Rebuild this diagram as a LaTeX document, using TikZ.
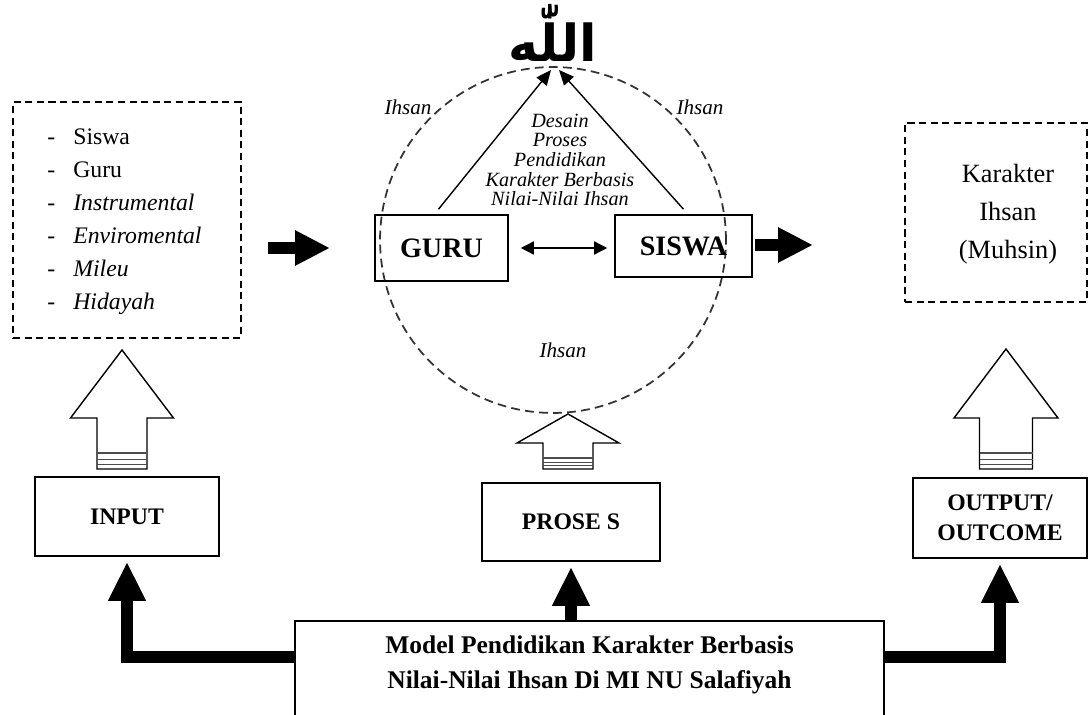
\documentclass[tikz,border=0pt]{standalone}
\usepackage{fontspec}
\setmainfont{Liberation Serif}
\newfontfamily\arabicfont[Script=Arabic]{DejaVu Sans}
\TeXXeTstate=1
\usetikzlibrary{calc,arrows.meta,positioning}
\tikzset{
  sbox/.style={draw, line width=0.9pt, font=\fontsize{13.5}{17}\selectfont\bfseries, align=center},
  pelaku/.style={draw, line width=0.9pt, font=\fontsize{16}{19}\selectfont\bfseries},
  dbox/.style={draw, line width=0.7pt, dash pattern=on 4pt off 2.6pt},
  ihsan/.style={font=\fontsize{12}{14}\selectfont\itshape},
  fatarrow/.style={line width=0.24cm, -{Triangle[length=0.78cm, width=0.7cm]}},
  blkarrow/.style={line width=0.24cm, -{Triangle[length=0.7cm, width=0.66cm]}},
  tipis/.style={line width=0.8pt, -{Triangle[length=0.3cm, width=0.26cm]}},
  hollow/.style={draw, line width=0.8pt, fill=white},
}
\begin{document}
\begin{tikzpicture}[x=0.02cm, y=-0.02cm]
  \clip (0,0) rectangle (1089,715);

  %% --- Allah and the circle of Ihsan ---
  \node[font={\fontsize{29}{33}\arabicfont\bfseries}] (allah) at (553,33) {\beginR اللّٰه\endR};
  \coordinate (puncak) at (555,70);
  \node[circle, draw, line width=1pt, black!80, dash pattern=on 5pt off 3pt,
        minimum size=6.92cm] (lingkar) at (553,240) {};

  \node[ihsan] (ihsanL) at (408,107) {Ihsan};
  \node[ihsan] (ihsanR) at (700,107) {Ihsan};
  \node[ihsan] (ihsanB) at (563,350) {Ihsan};

  \node[align=center, font=\fontsize{11.5}{11.2}\selectfont\itshape] (desain) at (560,160)
    {Desain\\Proses\\Pendidikan\\Karakter Berbasis\\Nilai-Nilai Ihsan};

  % guru and siswa
  \node[pelaku, minimum width=2.66cm, minimum height=1.32cm] (guru) at (441.5,248) {GURU};
  \node[pelaku, minimum width=2.74cm, minimum height=1.24cm] (siswa) at (683.5,246) {SISWA};
  \draw[{Triangle[length=0.26cm,width=0.26cm]}-{Triangle[length=0.26cm,width=0.26cm]},
        line width=0.8pt, shorten <=0.24cm, shorten >=0.14cm] (guru.east) -- (guru.east -| siswa.west);
  \draw[tipis] ($(guru.north)+(-3,-5)$) -- ($(puncak)+(-4,0)$);
  \draw[tipis] ($(siswa.north)+(0,-5)$) -- ($(puncak)+(4,0)$);

  %% --- input (left) ---
  \node[dbox, minimum width=4.56cm, minimum height=4.72cm, font=\fontsize{13.5}{18.8}\selectfont] (masukan) at (127,220)
    {\begin{tabular}{@{}l@{\hspace{0.36cm}}l@{}}
      - & Siswa\\
      - & Guru\\
      - & \textit{Instrumental}\\
      - & \textit{Enviromental}\\
      - & \textit{Mileu}\\
      - & \textit{Hidayah}
    \end{tabular}\hspace*{0.1cm}};

  %% --- output (right) ---
  \node[dbox, minimum width=3.64cm, minimum height=3.58cm, font=\fontsize{15}{21.6}\selectfont] (hasil) at (996,212.5)
    {\hspace*{0.48cm}\begin{tabular}{@{}c@{}}Karakter\\Ihsan\\(Muhsin)\end{tabular}};

  % black arrows between the parts
  \coordinate (a1) at (268,248);
  \coordinate (a2) at (330,248);
  \coordinate (b1) at (755,245);
  \coordinate (b2) at (813,245);
  \draw[blkarrow] (a1) -- (a2);
  \draw[blkarrow] (b1) -- (b2);

  %% --- stages ---
  \node[sbox, minimum width=3.68cm, minimum height=1.58cm] (input) at (127,516.5) {INPUT};
  \node[sbox, minimum width=3.56cm, minimum height=1.56cm] (proses) at (571,522) {PROSE S};
  \node[sbox, minimum width=3.48cm, minimum height=1.6cm] (output) at (1000,518) {OUTPUT/\\OUTCOME};

  % hollow arrows
  \foreach \cx/\ty/\by/\hh/\sh/\st in {122/350/418/51.5/25/16, 568/414/443/51/25/11, 1006/349/418/52/26.5/16}{
    \draw[hollow] (\cx,\ty) -- (\cx+\hh,\by) -- (\cx+\sh,\by) -- (\cx+\sh,469)
      -- (\cx-\sh,469) -- (\cx-\sh,\by) -- (\cx-\hh,\by) -- cycle;
    \foreach \d in {0.3,0.6,1}
      \draw[black!70, line width=0.6pt] (\cx-\sh,469-\d*\st) -- (\cx+\sh,469-\d*\st);
  }

  %% --- model (bottom) ---
  \node[draw, line width=0.9pt, anchor=north, minimum width=11.78cm, minimum height=2.4cm] (model) at (589.5,620) {};
  \node[align=center, font=\fontsize{14.5}{20}\selectfont\bfseries] (judul) at (589.5,665)
    {Model Pendidikan Karakter Berbasis\\Nilai-Nilai Ihsan Di MI NU Salafiyah};

  \draw[fatarrow, shorten >=0.1cm] ($(model.north west)+(0,37)$) -| (input.south);
  \draw[fatarrow, shorten >=0.1cm] (proses.south |- model.north) -- (proses.south);
  \draw[fatarrow, shorten >=0.1cm] ($(model.north east)+(0,37)$) -| (output.south);
\end{tikzpicture}
\end{document}
